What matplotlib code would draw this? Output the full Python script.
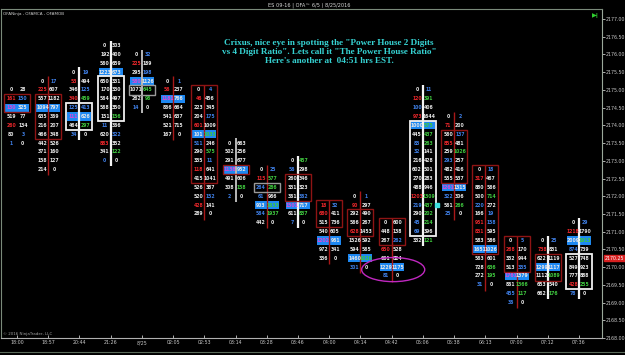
import matplotlib
matplotlib.use("Agg")
import matplotlib.pyplot as plt
from matplotlib.patches import Rectangle, Ellipse
import matplotlib.transforms as mtransforms

# ---------------- data ----------------
bar_times = ["18:00", "18:57", "20:44", "21:26", "8/25", "02:05", "02:53", "03:14", "03:28", "03:46",
             "04:00", "04:14", "04:42", "05:06", "05:38", "06:13", "07:00", "07:12", "07:36"]

bar_top = [2175.00, 2175.25, 2175.50, 2176.25, 2176.00, 2175.25, 2175.00, 2173.50, 2172.75, 2173.00,
           2171.75, 2172.00, 2171.25, 2175.00, 2174.25, 2172.75, 2170.75, 2170.75, 2171.25]

bids = [
    [0, 161, 130, 519, 260, 80, 1],
    [0, 225, 557, 1094, 635, 216, 466, 442, 371, 158, 214],
    [0, 53, 346, 340, 125, 111, 464, 34],
    [0, 192, 560, 1223, 650, 170, 564, 568, 151, 11, 620, 883, 341, 0],
    [0, 225, 295, 580, 1071, 262, 14],
    [0, 56, 1181, 866, 541, 521, 167],
    [0, 46, 223, 204, 601, 101, 511, 290, 335, 118, 415, 526, 520, 428, 289],
    [0, 502, 291, 1138, 491, 308, 2],
    [0, 115, 264, 61, 903, 564, 442],
    [0, 56, 260, 331, 361, 1501, 611, 7],
    [18, 680, 515, 540, 1202, 972, 336],
    [0, 90, 292, 566, 628, 1526, 594, 1460, 301],
    [0, 448, 267, 650, 661, 1229, 81],
    [0, 120, 100, 973, 1000, 445, 83, 32, 216, 602, 270, 488, 1203, 219, 290, 45, 69, 332],
    [0, 71, 560, 855, 259, 293, 482, 555, 1261, 322, 561, 25],
    [0, 317, 880, 500, 220, 166, 951, 831, 583, 1651, 563, 728, 272, 31],
    [0, 268, 332, 513, 1761, 861, 455, 36],
    [0, 738, 622, 1299, 1112, 653, 662],
    [0, 1218, 2009, 874, 527, 849, 777, 428, 78],
]

asks = [
    [28, 150, 325, 77, 134, 3, 0],
    [17, 607, 1182, 797, 369, 207, 348, 526, 160, 127, 0],
    [19, 494, 125, 459, 413, 626, 297, 0],
    [303, 400, 659, 673, 331, 330, 497, 350, 156, 366, 322, 352, 122, 0],
    [32, 189, 198, 1126, 645, 98, 0],
    [1, 237, 766, 664, 637, 715, 0],
    [4, 456, 345, 175, 1009, 1033, 246, 575, 11, 641, 1041, 387, 152, 141, 0],
    [663, 256, 677, 952, 606, 158, 0],
    [25, 577, 286, 986, 1633, 1937, 0],
    [457, 298, 346, 323, 362, 717, 837, 0],
    [32, 411, 736, 605, 961, 341, 0],
    [1, 297, 490, 267, 1453, 592, 565, 1026, 0],
    [600, 138, 262, 528, 824, 1175, 0],
    [11, 391, 406, 1644, 575, 437, 263, 141, 428, 501, 283, 946, 1309, 437, 202, 214, 396, 121],
    [2, 200, 137, 481, 1026, 257, 416, 537, 1315, 306, 266, 0],
    [18, 467, 566, 714, 272, 19, 158, 595, 586, 1026, 601, 636, 195, 0],
    [5, 170, 944, 335, 1379, 1366, 117, 0],
    [25, 831, 1119, 1117, 1089, 540, 176],
    [29, 1790, 1913, 739, 748, 923, 888, 255, 0],
]

bid_colors = ["wrmwrwb", "wrwwwwwwwww", "wrwrbmwb", "wwwwwwwwwbwrwb", "wrwmwwb", "wrmwwww",
              "wrwwrwbwwrwwwrw", "wwwmwwb", "wrbbwbw", "wbwwwmwb", "rrwwmww", "wrwwrwwwb",
              "wwwrwwb", "wrbrwwbbwwwwrbwbbw", "wrwrwbwwmbwb", "wrwwbwrrwwwwwb", "wrwwmwbb",
              "wrwwwww", "wrwbwwwrb"]
ask_colors = ["wbwwwbw", "bwwwwwwwwww", "bwbgbwgw", "wwwwwwwwgwbwgw", "bwbwggw", "bwwwwww",
              "bwwbwgwgbwwwbww", "wwwwwgw", "bggwggw", "gwwwbwgw", "bwwwwww", "bwwwwwwgw",
              "wwbwwww", "bgwwgggwwwwwggggwg", "bwbwgwwwwwgw", "bwwgwbbwwwwggw", "bwwbwggw",
              "bwwwgwg", "bwgwwwwgw"]

highlight_row = [2, 3, 5, 3, 3, 2, 5, 3, 4, 5, 4, 7, 5, 4, 8, 9, 4, 3, 2]

box_start = [1, 2, 4, 4, 4, None, 0, 3, 2, 2, 0, 2, 0, 4, 2, 0, 0, 2, 4]
box_end = [2, 6, 6, 8, 4, None, 10, 3, 2, 4, 2, 4, 2, 16, 7, 9, 3, 4, 7]
box_kind = ["r", "r", "w", "w", "g", None, "r", "r", "g", "r", "r", "r", "r", "w", "r", "r", "r", "r", "w"]
sep_kind = ["n", "r", "w", "w", "g", "r", "r", "g", "r", "w", "r", "r", "r", "w", "r", "r", "r", "w", "w"]

price_ticks = [2168.0 + 0.5 * k for k in range(19)]
last_price = 2170.25

annotation = ('Crixus, nice eye in spotting the "Power House 2 Digits\n'
              'vs 4 Digit Ratio". Lets call it "The Power House Ratio"\n'
              "Here's another at  04:51 hrs EST.")

# ---------------- styling ----------------
W, H = 625, 355
txt_col = {"w": "#e6e6e6", "r": "#e8262a", "b": "#3f7fe6", "g": "#3fc83f", "m": "#d848d8"}
box_col = {"r": "#8e1414", "w": "#f0f0f0", "g": "#9a9a9a"}
sep_col = {"r": "#a81818", "w": "#f4f4f4", "g": "#b8b8b8"}
sep_lw = {"r": 1.0, "w": 1.6, "g": 1.4}
hl_col = "#1d88f2"

fig = plt.figure(figsize=(W / 100, H / 100), dpi=100, facecolor="black")
ax_left, ax_right, ax_top, ax_bot = 1, 602, 9, 338
ax = fig.add_axes([ax_left / W, (H - ax_bot) / H, (ax_right - ax_left) / W, (ax_bot - ax_top) / H])
ax.set_facecolor("black")

px_per_bar = 31.22
x0_pix = 17.0
ax.set_xlim((ax_left - x0_pix) / px_per_bar, (ax_right - x0_pix) / px_per_bar)
px_per_pt = 35.44
ax.set_ylim(2168.0, 2168.0 + (ax_bot - ax_top) / px_per_pt)

dx = 1.0 / px_per_bar
col_off = 5.8 * dx
half_w = 12.0 * dx
row_h = 0.25
fs = 3.3

for i in range(len(bar_times)):
    top = bar_top[i]
    n = len(bids[i])
    # highlight cells
    hr = highlight_row[i]
    p = top - hr * row_h
    ax.add_patch(Rectangle((i - half_w, p - 0.115), 2 * half_w, 0.23, facecolor=hl_col,
                           edgecolor="none", zorder=1))
    # separator line
    s = sep_kind[i]
    if s != "n":
        ax.plot([i, i], [top + 0.14, top - (n - 1) * row_h - 0.16], color=sep_col[s],
                lw=sep_lw[s], zorder=2, solid_capstyle="butt")
    # box
    if box_start[i] is not None:
        y_hi = top - box_start[i] * row_h + 0.13
        y_lo = top - box_end[i] * row_h - 0.13
        ax.add_patch(Rectangle((i - half_w - 1.0 * dx, y_lo), 2 * half_w + 2.0 * dx, y_hi - y_lo,
                               facecolor="none", edgecolor=box_col[box_kind[i]],
                               lw=1.0 if box_kind[i] != "w" else 1.3, zorder=3))
    # numbers
    for k in range(n):
        p = top - k * row_h
        ax.text(i - col_off, p, str(bids[i][k]), color=txt_col[bid_colors[i][k]], fontsize=fs,
                ha="center", va="center", zorder=4, fontweight="bold")
        ax.text(i + col_off, p, str(asks[i][k]), color=txt_col[ask_colors[i][k]], fontsize=fs,
                ha="center", va="center", zorder=4, fontweight="bold")

# ellipse around 04:42 bar
ax.add_patch(Ellipse((12.05, 2169.93), width=2.02, height=0.68, facecolor="none",
                     edgecolor="#c028c0", lw=1.0, zorder=5))
# cyan marker
ax.plot([13 + 14.5 * dx], [2171.75], marker="s", ms=2.2, color="#3fe0e0", zorder=5)

# axes styling
for sp in ["left", "top"]:
    ax.spines[sp].set_color("#7a8a7a")
    ax.spines[sp].set_linewidth(0.8)
ax.spines["right"].set_color("#9aa89a")
ax.spines["right"].set_linewidth(0.8)
ax.spines["bottom"].set_color("#b0b0b0")
ax.spines["bottom"].set_linewidth(0.8)

ax.yaxis.tick_right()
ax.set_yticks(price_ticks)
ax.set_yticklabels([f"{v:.2f}" for v in price_ticks])
ax.tick_params(axis="y", colors="#c8c8c8", labelsize=3.4, length=2, width=0.6, pad=0.5)
ax.set_xticks(range(len(bar_times)))
ax.set_xticklabels(bar_times)
ax.tick_params(axis="x", colors="#c8c8c8", labelsize=3.4, length=2, width=0.6, pad=1.5,
               direction="in")

# last price label
trans = mtransforms.blended_transform_factory(ax.transAxes, ax.transData)
ax.text(1.004, last_price, f"{last_price:.2f}", transform=trans, fontsize=3.4, color="white",
        ha="left", va="center", zorder=6,
        bbox=dict(boxstyle="square,pad=0.15", facecolor="#d82020", edgecolor="#d82020"))

# texts
fig.text(309 / W, 1 - 5 / H, "ES 09-16 | OFA\u2122 6/5 ) 8/25/2016", color="#d8d8d8", fontsize=3.6,
         ha="center", va="center")
fig.text(3 / W, 1 - 13.5 / H, "OFANinja , OFAMCA , OFAMOB", color="#d0d0d0", fontsize=3.0,
         ha="left", va="center")
fig.text(3 / W, 1 - 334 / H, "\u00a9 2016 NinjaTrader, LLC", color="#a0a0a0", fontsize=2.9,
         ha="left", va="center")
fig.text(329 / W, 1 - 52 / H, annotation, color="#36d2d2", fontsize=6.6, fontweight="bold",
         family="Liberation Serif", ha="center", va="center", multialignment="center",
         linespacing=1.1)
fig.text(595 / W, 1 - 16 / H, "\u25b6|", color="#30d030", fontsize=4.5, ha="center", va="center",
         fontweight="bold")

# outer frame bottom line
fig.add_artist(plt.Line2D([0, 1], [1 - 352 / H, 1 - 352 / H], color="#5a6a5a", lw=0.8))

fig.savefig("out.png", dpi=100, facecolor="black")
